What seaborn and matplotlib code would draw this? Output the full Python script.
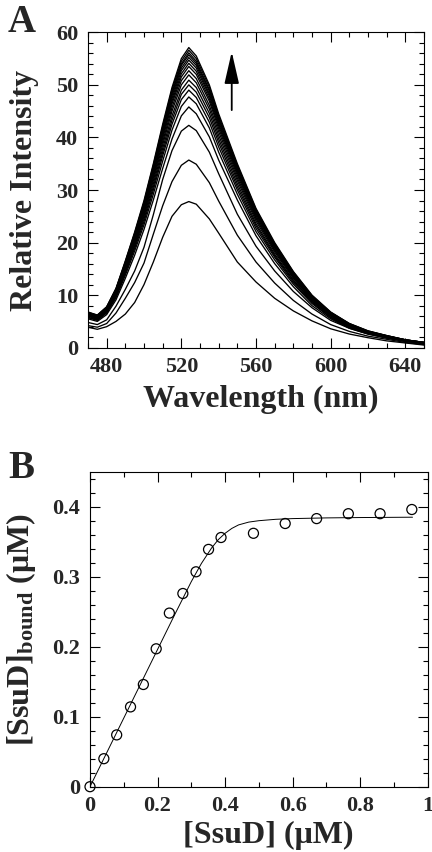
import numpy as np
import pandas as pd
import seaborn as sns
import matplotlib.pyplot as plt
from matplotlib.ticker import MultipleLocator, FormatStrFormatter

# panel A: emission spectra
wavelength = [470, 475, 480, 485, 490, 495, 500, 505, 510, 515, 520, 524, 528,
              535, 540, 550, 560, 570, 580, 590, 600, 610, 620, 630, 640, 650]

spec_01 = [3.9, 3.5, 4.0, 5.0, 6.4, 8.6, 12.0, 16.3, 21.0, 25.0, 27.2, 27.8, 27.3, 24.5, 21.8, 16.3, 12.5, 9.4, 7.0, 5.1, 3.6, 2.6, 1.9, 1.3, 0.9, 0.5]
spec_02 = [4.2, 3.9, 4.6, 6.6, 9.4, 12.4, 16.1, 21.6, 27.0, 31.6, 34.7, 35.7, 34.9, 31.4, 27.9, 21.4, 16.3, 12.3, 9.0, 6.4, 4.4, 3.1, 2.2, 1.6, 1.0, 0.6]
spec_03 = [4.8, 4.4, 5.3, 7.9, 11.1, 14.6, 19.1, 25.3, 32.0, 37.5, 41.2, 42.3, 41.3, 37.2, 33.1, 25.4, 19.3, 14.6, 10.7, 7.6, 5.2, 3.7, 2.6, 1.9, 1.2, 0.8]
spec_04 = [5.5, 5.0, 6.3, 9.1, 13.2, 17.6, 22.5, 28.1, 34.1, 39.7, 44.1, 45.8, 44.5, 40.1, 35.7, 28.1, 21.3, 16.0, 11.6, 8.0, 5.5, 3.7, 2.6, 1.8, 1.2, 0.8]
spec_05 = [5.7, 5.2, 6.6, 9.5, 13.8, 18.4, 23.4, 29.2, 35.5, 41.4, 45.9, 47.7, 46.4, 41.8, 37.2, 29.2, 22.1, 16.7, 12.1, 8.4, 5.7, 3.8, 2.7, 1.9, 1.3, 0.8]
spec_06 = [5.8, 5.3, 6.7, 9.7, 14.2, 18.9, 24.0, 30.0, 36.5, 42.5, 47.2, 49.0, 47.6, 42.9, 38.2, 30.0, 22.7, 17.2, 12.4, 8.6, 5.8, 3.9, 2.7, 2.0, 1.3, 0.9]
spec_07 = [6.0, 5.4, 6.9, 9.9, 14.4, 19.3, 24.5, 30.6, 37.2, 43.3, 48.2, 50.0, 48.6, 43.8, 39.0, 30.6, 23.2, 17.5, 12.7, 8.8, 6.0, 4.0, 2.8, 2.0, 1.3, 0.9]
spec_08 = [6.1, 5.5, 7.0, 10.1, 14.7, 19.6, 25.0, 31.2, 37.9, 44.1, 49.0, 50.9, 49.5, 44.6, 39.7, 31.2, 23.6, 17.8, 12.9, 8.9, 6.1, 4.1, 2.9, 2.1, 1.3, 0.9]
spec_09 = [6.2, 5.6, 7.1, 10.3, 15.0, 20.0, 25.4, 31.8, 38.6, 45.0, 50.0, 51.9, 50.4, 45.4, 40.4, 31.8, 24.1, 18.2, 13.2, 9.1, 6.2, 4.2, 2.9, 2.1, 1.4, 0.9]
spec_10 = [6.3, 5.7, 7.2, 10.5, 15.2, 20.3, 25.8, 32.3, 39.2, 45.7, 50.8, 52.7, 51.2, 46.1, 41.1, 32.3, 24.5, 18.5, 13.4, 9.2, 6.3, 4.2, 3.0, 2.1, 1.4, 0.9]
spec_11 = [6.4, 5.8, 7.3, 10.6, 15.5, 20.6, 26.2, 32.8, 39.8, 46.4, 51.5, 53.5, 52.0, 46.9, 41.7, 32.8, 24.8, 18.7, 13.6, 9.4, 6.4, 4.3, 3.0, 2.2, 1.4, 0.9]
spec_12 = [6.4, 5.9, 7.4, 10.7, 15.6, 20.8, 26.5, 33.2, 40.3, 46.9, 52.1, 54.1, 52.6, 47.4, 42.2, 33.2, 25.1, 19.0, 13.7, 9.5, 6.4, 4.4, 3.0, 2.2, 1.4, 0.9]
spec_13 = [6.5, 5.9, 7.5, 10.8, 15.8, 21.1, 26.8, 33.5, 40.7, 47.4, 52.7, 54.7, 53.2, 47.9, 42.6, 33.5, 25.4, 19.2, 13.9, 9.6, 6.5, 4.4, 3.1, 2.2, 1.4, 1.0]
spec_14 = [6.6, 6.0, 7.6, 10.9, 16.0, 21.3, 27.1, 33.8, 41.1, 47.9, 53.2, 55.2, 53.7, 48.3, 43.0, 33.8, 25.6, 19.3, 14.0, 9.7, 6.6, 4.4, 3.1, 2.2, 1.5, 1.0]
spec_15 = [6.6, 6.0, 7.6, 11.0, 16.1, 21.5, 27.3, 34.1, 41.5, 48.3, 53.7, 55.7, 54.1, 48.8, 43.4, 34.1, 25.9, 19.5, 14.1, 9.8, 6.6, 4.5, 3.1, 2.2, 1.5, 1.0]
spec_16 = [6.7, 6.1, 7.7, 11.1, 16.2, 21.6, 27.5, 34.4, 41.8, 48.6, 54.0, 56.1, 54.5, 49.1, 43.7, 34.4, 26.0, 19.7, 14.2, 9.8, 6.7, 4.5, 3.1, 2.3, 1.5, 1.0]
spec_17 = [6.7, 6.2, 7.7, 11.2, 16.4, 21.8, 27.7, 34.7, 42.1, 49.1, 54.5, 56.6, 55.0, 49.6, 44.1, 34.7, 26.3, 19.8, 14.4, 9.9, 6.7, 4.6, 3.2, 2.3, 1.5, 1.0]
spec_18 = [6.8, 6.2, 7.8, 11.3, 16.5, 22.0, 28.0, 35.0, 42.5, 49.5, 55.0, 57.1, 55.5, 50.0, 44.5, 35.0, 26.5, 20.0, 14.5, 10.0, 6.8, 4.6, 3.2, 2.3, 1.5, 1.0]

spectra = [spec_01, spec_02, spec_03, spec_04, spec_05, spec_06, spec_07, spec_08, spec_09,
           spec_10, spec_11, spec_12, spec_13, spec_14, spec_15, spec_16, spec_17, spec_18]

# panel B: titration points and fitted curve
ssud_total = [0.0, 0.041, 0.079, 0.120, 0.158, 0.196, 0.235, 0.275, 0.314, 0.351, 0.388,
              0.484, 0.578, 0.671, 0.765, 0.859, 0.953]
ssud_bound = [0.0, 0.040, 0.074, 0.114, 0.146, 0.197, 0.248, 0.276, 0.307, 0.339, 0.356,
              0.362, 0.376, 0.383, 0.390, 0.390, 0.396]

fit_x = [0.0, 0.05, 0.10, 0.15, 0.20, 0.25, 0.30, 0.33, 0.36, 0.38, 0.40, 0.42, 0.44,
         0.47, 0.50, 0.55, 0.60, 0.70, 0.80, 0.955]
fit_y = [0.0, 0.049, 0.098, 0.147, 0.196, 0.245, 0.293, 0.319, 0.341, 0.353, 0.362, 0.369,
         0.374, 0.378, 0.380, 0.382, 0.383, 0.384, 0.3845, 0.385]

sns.set_theme(style="ticks")
plt.rcParams['font.family'] = ['Liberation Serif', 'DejaVu Serif']
plt.rcParams['font.weight'] = 'bold'
plt.rcParams['mathtext.fontset'] = 'custom'
plt.rcParams['mathtext.rm'] = 'Liberation Serif:bold'
plt.rcParams['mathtext.it'] = 'Liberation Serif:bold'
plt.rcParams['mathtext.bf'] = 'Liberation Serif:bold'

rows = []
for i, s in enumerate(spectra):
    for w, v in zip(wavelength, s):
        rows.append({"curve": i, "wl": w, "I": v})
spec_df = pd.DataFrame(rows)

fig = plt.figure(figsize=(4.32, 8.52), dpi=100)
axA = fig.add_axes([88/432, 1 - 347.7/852, 336/432, 315.4/852])
axB = fig.add_axes([90/432, 1 - 786.7/852, 337.7/432, 315/852])

sns.lineplot(data=spec_df, x="wl", y="I", units="curve", estimator=None,
             color="black", lw=0.95, ax=axA)
axA.annotate("", xy=(547, 56.3), xytext=(547, 45.2),
             arrowprops=dict(arrowstyle="-|>,head_length=1.4,head_width=0.32",
                             color="black", lw=1.3, mutation_scale=14, shrinkA=0, shrinkB=0))
axA.set_xlim(470, 650)
axA.set_ylim(0, 60)
axA.xaxis.set_major_locator(MultipleLocator(40))
axA.xaxis.set_minor_locator(MultipleLocator(10))
axA.yaxis.set_major_locator(MultipleLocator(10))
axA.yaxis.set_minor_locator(MultipleLocator(2))
axA.set_xlabel("Wavelength (nm)", fontsize=23, fontweight="bold", va="center")
axA.set_ylabel("Relative Intensity", fontsize=23, fontweight="bold", va="center")
axA.xaxis.set_label_coords(0.515, -0.163)
axA.yaxis.set_label_coords(-0.19, 0.5)

sns.lineplot(x=fit_x, y=fit_y, color="black", lw=0.7, ax=axB)
sns.scatterplot(x=ssud_total, y=ssud_bound, s=52, marker="o", facecolors="none",
                edgecolor="black", linewidth=0.9, clip_on=False, zorder=3, ax=axB)
axB.set_xlim(0, 1)
axB.set_ylim(0, 0.45)
axB.xaxis.set_major_locator(MultipleLocator(0.2))
axB.xaxis.set_minor_locator(MultipleLocator(0.1))
axB.yaxis.set_major_locator(MultipleLocator(0.1))
axB.yaxis.set_minor_locator(MultipleLocator(0.02))
axB.xaxis.set_major_formatter(FormatStrFormatter("%g"))
axB.yaxis.set_major_formatter(FormatStrFormatter("%g"))
axB.set_xlabel("[SsuD] (μM)", fontsize=23, fontweight="bold", va="center")
axB.set_ylabel(r"[SsuD]$_{\mathrm{bound}}$ (μM)", fontsize=23, fontweight="bold", va="center")
axB.xaxis.set_label_coords(0.527, -0.156)
axB.yaxis.set_label_coords(-0.205, 0.5)

for ax in (axA, axB):
    for sp in ax.spines.values():
        sp.set_linewidth(0.8)
        sp.set_color("black")
    ax.tick_params(which="both", direction="in", top=True, right=True,
                   width=0.8, color="black")
    ax.tick_params(which="major", length=7, pad=7, labelsize=16)
    ax.tick_params(which="minor", length=3.6)
    for lab in ax.get_xticklabels() + ax.get_yticklabels():
        lab.set_fontweight("bold")

fig.text(8/432, 1 - 32/852, "A", fontsize=28, fontweight="bold", ha="left", va="baseline")
fig.text(8/432, 1 - 478/852, "B", fontsize=28, fontweight="bold", ha="left", va="baseline")

fig.savefig("out.png", dpi=100)
